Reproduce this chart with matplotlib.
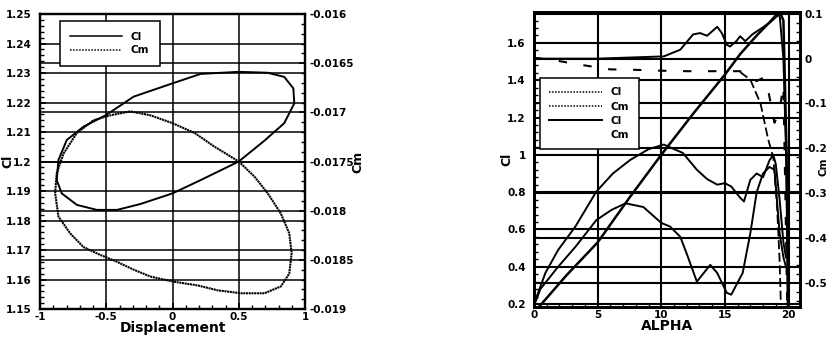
import matplotlib
matplotlib.use('Agg')
import matplotlib.pyplot as plt
from matplotlib.lines import Line2D
from matplotlib.ticker import MultipleLocator

plt.rcParams['font.family'] = ['DejaVu Sans']
plt.rcParams['font.weight'] = 'bold'
plt.rcParams['font.size'] = 7.5

# ---- left panel: Cl / Cm loops vs displacement ----
disp_cl = [0.5, 0.692, 0.843, 0.919, 0.912, 0.843, 0.717, 0.5, 0.212, 0.0, -0.293, -0.5,
           -0.672, -0.798, -0.861, -0.874, -0.836, -0.722, -0.571, -0.419, -0.242, 0.0,
           0.212, 0.5]
cl_loop = [1.2, 1.207, 1.213, 1.2197, 1.2248, 1.2287, 1.2301, 1.2304, 1.2297, 1.2265, 1.222,
           1.2158, 1.2118, 1.2073, 1.2005, 1.1937, 1.1892, 1.1853, 1.1836, 1.1836, 1.1856,
           1.1892, 1.1937, 1.2]

disp_cm = [0.5, 0.616, 0.717, 0.818, 0.881, 0.899, 0.881, 0.818, 0.694, 0.518, 0.341, 0.189,
           0.0, -0.167, -0.293, -0.419, -0.545, -0.672, -0.773, -0.861, -0.886, -0.874,
           -0.823, -0.722, -0.596, -0.47, -0.318, -0.167, 0.0, 0.167, 0.318, 0.5]
cm_loop = [-0.0175, -0.01765, -0.01782, -0.01803, -0.01823, -0.01843, -0.01864, -0.01877,
           -0.01884, -0.01884, -0.01881, -0.01876, -0.01872, -0.01867, -0.0186, -0.01852,
           -0.01845, -0.01837, -0.01823, -0.01806, -0.01782, -0.01762, -0.01742, -0.01721,
           -0.01708, -0.01703, -0.01699, -0.01703, -0.01711, -0.01721, -0.01735, -0.0175]

left_xticks = [-1, -0.5, 0, 0.5, 1]
left_xlabels = ['-1', '-0.5', '0', '0.5', '1']
left_yticks = [1.15, 1.16, 1.17, 1.18, 1.19, 1.2, 1.21, 1.22, 1.23, 1.24, 1.25]
left_ylabels = ['1.15', '1.16', '1.17', '1.18', '1.19', '1.2', '1.21', '1.22', '1.23', '1.24', '1.25']
left_y2ticks = [-0.019, -0.0185, -0.018, -0.0175, -0.017, -0.0165, -0.016]
left_y2labels = ['-0.019', '-0.0185', '-0.018', '-0.0175', '-0.017', '-0.0165', '-0.016']

# ---- right panel: Cl / Cm vs ALPHA ----
alpha_static = [0.0, 0.4, 2.5, 5.0, 7.5, 10.0, 12.5, 15.0, 16.2, 17.5, 18.5, 19.3, 19.6, 19.85, 19.95]
cl_static = [0.15, 0.185, 0.35, 0.53, 0.77, 1.0, 1.22, 1.43, 1.54, 1.64, 1.71, 1.77, 1.72, 1.0, 0.19]

alpha_b = [0.0, 0.9, 1.9, 3.25, 4.9, 6.2, 7.57, 9.0, 10.2, 11.7, 12.8, 13.6, 14.4, 15.0, 15.5,
           16.2, 16.5, 17.0, 17.5, 18.0, 18.5, 18.8, 19.0, 19.3, 19.6, 19.8]
cl_b = [0.2, 0.367, 0.49, 0.615, 0.803, 0.9, 0.973, 1.03, 1.055, 1.01, 0.92, 0.87, 0.84, 0.848,
        0.83, 0.77, 0.75, 0.866, 0.9, 0.88, 0.97, 1.0, 0.95, 0.76, 0.53, 0.45]

alpha_c = [0.0, 0.5, 1.9, 3.25, 4.9, 6.1, 7.2, 8.6, 10.0, 10.7, 11.5, 12.0, 12.8, 13.85, 14.4,
           15.15, 15.5, 16.4, 17.0, 17.5, 18.0, 18.5, 18.9, 19.3, 19.6, 19.8]
cl_c = [0.19, 0.28, 0.4, 0.506, 0.65, 0.705, 0.74, 0.72, 0.635, 0.615, 0.56, 0.47, 0.32, 0.41,
        0.366, 0.26, 0.25, 0.367, 0.58, 0.8, 0.9, 0.935, 0.92, 0.58, 0.45, 0.4]

alpha_cm = [0.0, 5.0, 10.2, 11.5, 12.5, 13.06, 13.6, 14.4, 14.76, 15.15, 15.4, 15.9, 16.2, 16.6,
            17.2, 18.0, 18.6, 19.07, 19.3, 19.6, 19.8, 20.0]
cm_static = [0.0, 0.0, 0.005, 0.02, 0.054, 0.057, 0.051, 0.071, 0.057, 0.031, 0.027, 0.039, 0.05,
             0.039, 0.055, 0.07, 0.082, 0.094, 0.098, 0.0, -0.2, -0.55]

alpha_cm_dyn = [0.0, 1.5, 3.5, 6.0, 8.0, 10.0, 12.0, 14.0, 16.2, 17.0, 17.5, 18.0, 18.4, 18.8,
                18.9, 19.3, 19.6, 19.75, 19.9]
cm_dyn = [0.002, -0.003, -0.013, -0.024, -0.025, -0.027, -0.028, -0.028, -0.028, -0.045, -0.05,
          -0.043, -0.07, -0.13, -0.143, -0.114, -0.06, -0.3, -0.55]

alpha_cm_dyn2 = [16.2, 17.0, 17.8, 18.4, 18.8, 19.1, 19.3, 19.4]
cm_dyn2 = [-0.03, -0.047, -0.1, -0.18, -0.22, -0.33, -0.45, -0.55]

right_xticks = [0, 5, 10, 15, 20]
right_yticks = [0.2, 0.4, 0.6, 0.8, 1.0, 1.2, 1.4, 1.6]
right_ylabels = ['0.2', '0.4', '0.6', '0.8', '1', '1.2', '1.4', '1.6']
right_y2ticks = [-0.5, -0.4, -0.3, -0.2, -0.1, 0.0, 0.1]
right_y2labels = ['-0.5', '-0.4', '-0.3', '-0.2', '-0.1', '0', '0.1']


def style_axes(a, spine_lw=1.6):
    for s in a.spines.values():
        s.set_linewidth(spine_lw)
    a.tick_params(which='both', direction='in', color='black', labelsize=7.5)
    a.tick_params(which='major', length=4, width=1.2)
    a.tick_params(which='minor', length=3, width=1.0)
    a.tick_params(axis='x', pad=2)


fig = plt.figure(figsize=(8.32, 3.43), dpi=100)

# left panel
ax1 = fig.add_axes([0.0481, 0.0991, 0.3185, 0.860])
ax1b = ax1.twinx()
ax1.set_xlim(-1, 1)
ax1.set_ylim(1.15, 1.25)
ax1b.set_ylim(-0.019, -0.016)
ax1.set_xticks(left_xticks)
ax1.set_xticklabels(left_xlabels)
ax1.set_yticks(left_yticks)
ax1.set_yticklabels(left_ylabels)
ax1b.set_yticks(left_y2ticks)
ax1b.set_yticklabels(left_y2labels)
ax1.xaxis.set_minor_locator(MultipleLocator(0.1))
ax1.yaxis.set_minor_locator(MultipleLocator(0.002))
ax1b.yaxis.set_minor_locator(MultipleLocator(0.0001))
ax1.grid(True, which='major', color='black', lw=1.1)
ax1b.grid(True, which='major', axis='y', color='black', lw=1.1)
style_axes(ax1)
style_axes(ax1b)
ax1.tick_params(axis='y', pad=6)
ax1b.tick_params(axis='y', pad=3)
ax1b.tick_params(axis='x', which='both', bottom=False, top=False)

ln_cl, = ax1.plot(disp_cl, cl_loop, color='black', lw=1.4)
ln_cm, = ax1b.plot(disp_cm, cm_loop, color='black', lw=1.5, linestyle=(0, (1, 0.3)))
ax1.set_xlabel('Displacement', fontsize=10, fontweight='bold')
ax1.xaxis.set_label_coords(0.5, -0.042)
ax1.set_ylabel('Cl', fontsize=9, fontweight='bold')
ax1.yaxis.set_label_coords(-0.098, 0.5)
ax1b.set_ylabel('Cm', fontsize=9, fontweight='bold')
ax1b.yaxis.set_label_coords(1.176, 0.5)

leg1 = ax1b.legend([Line2D([], [], color='black', lw=1.1),
                    Line2D([], [], color='black', lw=1.1, linestyle=(0, (1, 1)))],
                   ['Cl', 'Cm'], loc='upper left', bbox_to_anchor=(0.075, 0.975),
                   fancybox=False, framealpha=1, edgecolor='black', handlelength=5.0,
                   borderpad=1.0, labelspacing=0.35, handletextpad=0.8, fontsize=7.5,
                   borderaxespad=0)
leg1.get_frame().set_linewidth(1.1)

# right panel
ax2 = fig.add_axes([0.6418, 0.105, 0.3197, 0.860])
ax2b = ax2.twinx()
ax2.set_xlim(0, 20.9)
ax2.set_ylim(0.184, 1.766)
ax2b.set_ylim(-0.554, 0.104)
ax2.set_xticks(right_xticks)
ax2.set_yticks(right_yticks)
ax2.set_yticklabels(right_ylabels)
ax2b.set_yticks(right_y2ticks)
ax2b.set_yticklabels(right_y2labels)
ax2.xaxis.set_minor_locator(MultipleLocator(1))
ax2.yaxis.set_minor_locator(MultipleLocator(0.04))
ax2b.yaxis.set_minor_locator(MultipleLocator(0.02))
ax2.grid(True, which='major', color='black', lw=1.5)
ax2b.grid(True, which='major', axis='y', color='black', lw=1.5)
style_axes(ax2, 2.0)
style_axes(ax2b, 2.0)
ax2.tick_params(axis='y', pad=6)
ax2b.tick_params(axis='y', pad=3)
ax2b.tick_params(axis='x', which='both', bottom=False, top=False)

ax2.plot(alpha_static, cl_static, color='black', lw=1.8)
ax2.plot(alpha_b, cl_b, color='black', lw=1.4)
ax2.plot(alpha_c, cl_c, color='black', lw=1.4)
ax2b.plot(alpha_cm, cm_static, color='black', lw=1.4)
ax2b.plot(alpha_cm_dyn, cm_dyn, color='black', lw=1.5, linestyle=(0, (4, 8)))
ax2b.plot(alpha_cm_dyn2, cm_dyn2, color='black', lw=1.3, linestyle=(0, (5, 2)))
ax2.set_xlabel('ALPHA', fontsize=10, fontweight='bold')
ax2.xaxis.set_label_coords(0.5, -0.042)
ax2.set_ylabel('Cl', fontsize=9, fontweight='bold')
ax2.yaxis.set_label_coords(-0.079, 0.5)
ax2b.set_ylabel('Cm', fontsize=7.5, fontweight='bold')
ax2b.yaxis.set_label_coords(1.07, 0.475)

leg2 = ax2b.legend([Line2D([], [], color='black', lw=1.1, linestyle=(0, (1, 1))),
                    Line2D([], [], color='black', lw=1.1, linestyle=(0, (1, 1))),
                    Line2D([], [], color='black', lw=1.4),
                    Line2D([], [], color='none')],
                   ['Cl', 'Cm', 'Cl', 'Cm'], loc='upper left', bbox_to_anchor=(0.023, 0.776),
                   fancybox=False, framealpha=1, edgecolor='black', handlelength=5.0,
                   borderpad=0.9, labelspacing=0.4, handletextpad=0.9, fontsize=7.5,
                   borderaxespad=0)
leg2.get_frame().set_linewidth(1.1)

fig.savefig('out.png', dpi=100)
